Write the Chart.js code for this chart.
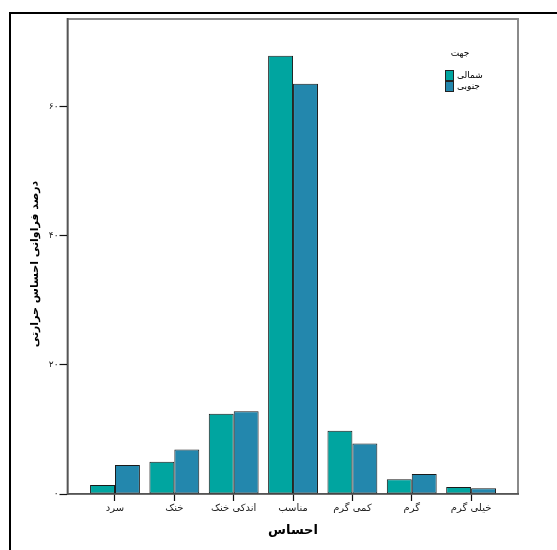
<!DOCTYPE html>
<html>
<head>
<meta charset="utf-8">
<script src="https://cdn.jsdelivr.net/npm/chart.js@4.4.1/dist/chart.umd.min.js"></script>
<style>
  html, body { margin: 0; padding: 0; background: #fff; }
  #wrap { width: 557px; height: 550px; position: relative; }
</style>
</head>
<body>
<div id="wrap"><canvas id="chart" width="557" height="550"></canvas></div>
<script>
// -------------------------
// Data
// -------------------------
const categories = ["سرد", "خنک", "اندکی خنک", "مناسب", "کمی گرم", "گرم", "خیلی گرم"];
const seriesLabels = ["شمالی", "جنوبی"];
const northValues = [1.4, 5.0, 12.4, 67.8, 9.8, 2.3, 1.1];
const southValues = [4.5, 6.9, 12.8, 63.5, 7.8, 3.1, 0.9];
const yTicks = [0, 20, 40, 60];

const legendTitle = "جهت";
const xTitle = "احساس";
const yTitle = "درصد فراوانی احساس حرارتی";

const colors = ["#00a5a0", "#2387ad"];
const arabicFont = "'DejaVu Sans', sans-serif";

// western digits -> persian digits
function toPersian(n) {
  return String(n).replace(/\d/g, d => "۰۱۲۳۴۵۶۷۸۹"[d]);
}

// -------------------------
// Frame, titles, legend
// -------------------------
const framePlugin = {
  id: "frame",
  beforeDraw(chart) {
    const ctx = chart.ctx;
    const a = chart.chartArea;
    ctx.save();
    // outer black frame (runs off right/bottom edges)
    ctx.strokeStyle = "#000";
    ctx.lineWidth = 2;
    ctx.strokeRect(10, 13, 700, 700);
    // grey plot box
    ctx.strokeStyle = "#8a8a8a";
    ctx.lineWidth = 2;
    ctx.strokeRect(a.left, a.top, a.right - a.left, a.bottom - a.top);
    ctx.restore();
  },
  afterDraw(chart) {
    const ctx = chart.ctx;
    ctx.save();
    ctx.fillStyle = "#000";
    ctx.textAlign = "center";
    ctx.textBaseline = "middle";

    // x title
    ctx.font = "bold 13px " + arabicFont;
    ctx.fillText(xTitle, 293, 531);

    // y title
    ctx.save();
    ctx.translate(35, 264);
    ctx.rotate(-Math.PI / 2);
    ctx.font = "bold 11px " + arabicFont;
    ctx.fillText(yTitle, 0, 0);
    ctx.restore();

    // legend
    ctx.font = "9px " + arabicFont;
    ctx.fillText(legendTitle, 460, 54);
    seriesLabels.forEach((label, i) => {
      const y = 70 + i * 11;
      ctx.fillStyle = colors[i];
      ctx.fillRect(445, y, 9, 11);
      ctx.strokeStyle = "#222";
      ctx.lineWidth = 1;
      ctx.strokeRect(445.5, y + 0.5, 8, 10);
      ctx.fillStyle = "#000";
      ctx.textAlign = "left";
      ctx.fillText(label, 457, y + 5.5);
    });
    ctx.restore();
  },
};

// -------------------------
// Chart
// -------------------------
const datasets = [northValues, southValues].map((vals, i) => ({
  label: seriesLabels[i],
  data: vals.map((v, j) => ({ x: j, y: v })),
  backgroundColor: colors[i],
  borderColor: "#1a1a1a",
  borderWidth: 1,
  borderSkipped: false,
  categoryPercentage: 0.84,
  barPercentage: 1,
}));

new Chart(document.getElementById("chart"), {
  type: "bar",
  data: { datasets },
  options: {
    responsive: false,
    animation: false,
    layout: { padding: { left: 27, top: 19, right: 39, bottom: 16 } },
    plugins: {
      legend: { display: false },
      tooltip: { enabled: false },
    },
    scales: {
      x: {
        type: "linear",
        offset: false,
        min: -0.8,
        max: 6.79,
        afterBuildTicks: scale => {
          scale.ticks = categories.map((c, i) => ({ value: i }));
        },
        afterFit: scale => { scale.height = 40; },
        ticks: {
          autoSkip: false,
          maxRotation: 0,
          padding: 1,
          color: "#222",
          font: { family: arabicFont, size: 10 },
          callback: v => categories[v],
        },
        grid: { display: true, offset: false, drawOnChartArea: false, drawTicks: true, tickLength: 7, tickWidth: 1.2, tickColor: "#111", color: "#111" },
        border: { display: true, color: "#555", width: 1.5 },
      },
      y: {
        min: 0,
        max: 73.5,
        afterBuildTicks: scale => {
          scale.ticks = yTicks.map(v => ({ value: v }));
        },
        afterFit: scale => { scale.width = 40.5; },
        ticks: {
          padding: 1,
          color: "#222",
          font: { family: arabicFont, size: 9 },
          callback: v => toPersian(v),
        },
        grid: { display: true, drawOnChartArea: false, drawTicks: true, tickLength: 8, tickWidth: 1.2, tickColor: "#111", color: "#111" },
        border: { display: true, color: "#555", width: 1.5 },
      },
    },
  },
  plugins: [framePlugin],
});
</script>
</body>
</html>
